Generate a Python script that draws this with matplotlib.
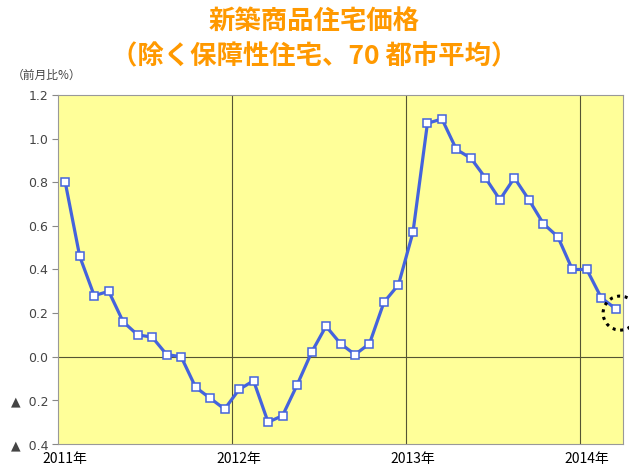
import matplotlib
matplotlib.use('agg')
import matplotlib.pyplot as plt
from matplotlib.patches import Ellipse

plt.rcParams['font.family'] = ['Noto Sans CJK JP', 'DejaVu Sans']

# 前月比（%）2011年1月〜2014年3月
values = [0.80, 0.46, 0.28, 0.30, 0.16, 0.10, 0.09, 0.01, 0.00, -0.14, -0.19, -0.24,
          -0.15, -0.11, -0.30, -0.27, -0.13, 0.02, 0.14, 0.06, 0.01, 0.06, 0.25, 0.33,
          0.57, 1.07, 1.09, 0.95, 0.91, 0.82, 0.72, 0.82, 0.72, 0.61, 0.55, 0.40,
          0.40, 0.27, 0.22]
year_labels = ['2011年', '2012年', '2013年', '2014年']
year_pos = [0, 12, 24, 36]
y_ticks = [1.2, 1.0, 0.8, 0.6, 0.4, 0.2, 0.0, -0.2, -0.4]
y_labels = ['1.2', '1.0', '0.8', '0.6', '0.4', '0.2', '0.0', '▲  0.2', '▲  0.4']

fig = plt.figure(figsize=(6.29, 4.70), dpi=100)
ax = fig.add_axes([0.0922, 0.0553, 0.8983, 0.7427])
ax.set_facecolor('#ffff99')

x = list(range(len(values)))
ax.plot(x, values, color='#4463dd', lw=2.3, marker='s', markersize=5.5,
        markerfacecolor='white', markeredgecolor='#4463dd', markeredgewidth=1.1, zorder=3)

# 年の区切り線と0線
for b in [11.5, 23.5, 35.5]:
    ax.axvline(b, color='#555533', lw=0.8, zorder=1)
ax.axhline(0, color='#555533', lw=0.8, zorder=1)

ax.set_xlim(-0.5, 38.5)
ax.set_ylim(-0.4, 1.2)
ax.set_yticks(y_ticks)
ax.set_yticklabels(y_labels, fontsize=9, color='#444444', family=['DejaVu Sans'])
ax.set_xticks(year_pos)
ax.set_xticklabels(year_labels, fontsize=10)
ax.tick_params(axis='x', length=0, pad=6)
ax.tick_params(axis='y', length=4, color='#888888', pad=3)
for s in ax.spines.values():
    s.set_color('#999999')

# 最新月の点線の丸
ax.add_patch(Ellipse((38.3, 0.20), width=2.35, height=0.156, fill=False,
                     ls=(0, (1, 1.5)), lw=2.2, color='black', clip_on=False, zorder=4))

fig.text(0.018, 0.833, '（前月比%）', fontsize=8.5, color='#444444')
fig.text(0.5, 0.953, '新築商品住宅価格', ha='center', va='center',
         fontsize=19, fontweight='bold', color='#ff9900')
fig.text(0.5, 0.878, '（除く保障性住宅、70 都市平均）', ha='center', va='center',
         fontsize=19, fontweight='bold', color='#ff9900')

plt.savefig('out.png')
